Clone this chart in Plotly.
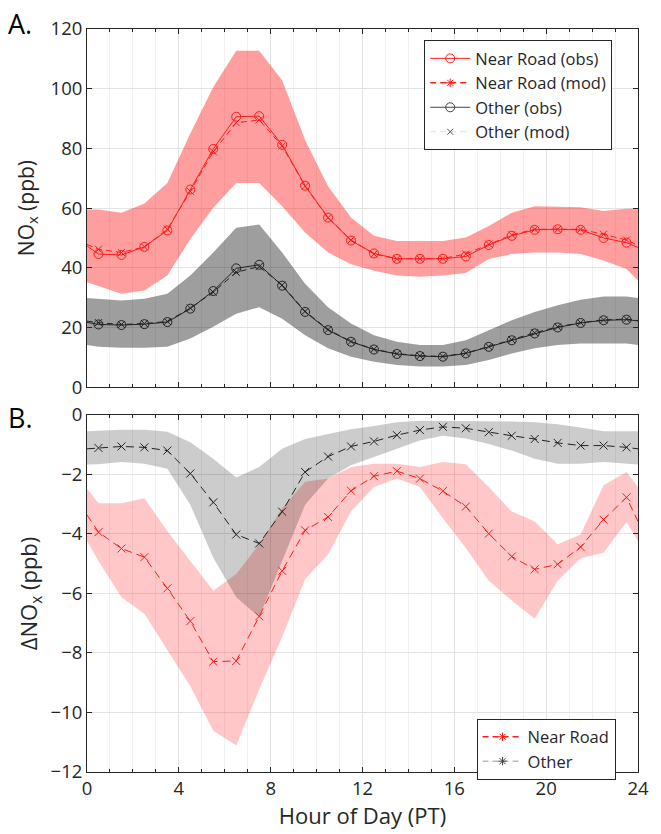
import plotly.graph_objects as go

# ---------------- data ----------------
hours = [0.5 + i for i in range(24)]
hours_full = [0] + hours + [24]

# Panel A: NOx (ppb)
nr_obs = [44.6, 44.3, 47.0, 52.5, 66.2, 79.8, 90.6, 90.8, 81.2, 67.5, 56.8, 49.1,
          44.8, 43.0, 43.0, 43.0, 43.8, 47.6, 50.7, 52.7, 52.9, 52.7, 50.0, 48.4]
nr_obs_end = [47.3, 46.8]
nr_mod = [46.2, 45.1, 47.0, 52.9, 65.6, 78.9, 88.6, 89.5, 80.8, 67.3, 56.8, 49.3,
          44.6, 43.0, 43.0, 43.1, 44.6, 47.9, 51.0, 52.9, 52.9, 52.9, 51.2, 49.3]
nr_mod_end = [47.8, 47.5]
nr_hi = [59.5, 59.5, 58.4, 61.5, 68.4, 85.0, 100.6, 112.7, 112.7, 102.8, 82.8, 67.3, 56.8,
         50.7, 49.0, 49.0, 49.0, 50.1, 54.0, 58.4, 60.6, 60.4, 60.3, 59.0, 59.8, 59.8]
nr_lo = [35.1, 34.0, 31.3, 32.4, 37.4, 49.6, 60.1, 68.4, 68.4, 60.6, 51.8, 45.1, 41.2,
         39.0, 37.4, 37.0, 37.4, 38.2, 42.9, 44.6, 45.1, 45.1, 44.6, 42.4, 39.6, 35.7]

ot_obs = [21.0, 20.8, 21.1, 21.8, 26.3, 32.2, 39.8, 41.0, 34.0, 25.2, 19.1, 15.2,
          12.6, 11.1, 10.4, 10.2, 11.3, 13.5, 15.7, 18.0, 20.0, 21.5, 22.4, 22.6]
ot_obs_end = [21.7, 22.2]
ot_mod = [21.6, 21.0, 21.3, 22.0, 26.5, 31.8, 38.5, 40.4, 34.2, 25.4, 19.3, 15.3,
          12.7, 11.2, 10.5, 10.3, 11.4, 13.6, 15.9, 18.2, 20.2, 21.6, 22.5, 22.8]
ot_mod_end = [22.1, 22.3]
ot_hi = [29.9, 29.6, 29.0, 29.6, 31.3, 37.4, 45.1, 53.4, 54.5, 45.1, 34.6, 26.8, 21.3,
         17.4, 15.2, 14.1, 14.1, 15.7, 19.1, 22.4, 25.2, 27.4, 29.3, 30.4, 30.4, 29.9]
ot_lo = [14.1, 13.5, 13.2, 13.2, 13.5, 16.3, 20.2, 24.6, 26.8, 22.9, 17.4, 13.0, 10.2,
         8.5, 7.4, 6.9, 6.9, 7.4, 9.1, 11.3, 13.0, 14.1, 14.6, 14.6, 14.6, 14.1]

# Panel B: delta NOx (ppb)
d_nr = [-3.36, -3.94, -4.49, -4.78, -5.83, -6.93, -8.29, -8.27, -6.77, -5.24, -3.88, -3.43,
        -2.55, -2.06, -1.89, -2.14, -2.56, -3.08, -3.99, -4.76, -5.19, -5.02, -4.44, -3.52,
        -2.77, -3.58]
d_nr_hi = [-2.47, -2.97, -2.97, -2.80, -3.91, -4.91, -5.91, -5.35, -4.35, -3.14, -2.25, -2.14,
           -1.75, -1.64, -1.64, -1.75, -1.58, -1.66, -2.42, -3.25, -3.58, -4.35, -4.02, -2.36,
           -1.92, -2.42]
d_nr_lo = [-4.24, -4.91, -6.13, -6.68, -7.90, -9.12, -10.61, -11.11, -9.23, -7.46, -5.52, -4.69,
           -3.25, -2.42, -2.14, -2.42, -3.47, -4.47, -5.57, -6.24, -6.85, -5.57, -4.82, -4.63,
           -3.60, -4.24]
d_ot = [-1.14, -1.11, -1.06, -1.09, -1.20, -1.97, -2.94, -4.02, -4.32, -3.25, -1.92, -1.40,
        -1.06, -0.89, -0.68, -0.51, -0.40, -0.45, -0.58, -0.70, -0.81, -0.94, -1.03, -1.03,
        -1.09, -1.14]
d_ot_hi = [-0.55, -0.53, -0.50, -0.50, -0.57, -0.92, -1.47, -2.10, -1.75, -1.14, -0.81, -0.64,
           -0.48, -0.37, -0.25, -0.20, -0.20, -0.20, -0.22, -0.22, -0.25, -0.31, -0.42, -0.55,
           -0.55, -0.55]
d_ot_lo = [-1.67, -1.66, -1.58, -1.64, -1.81, -3.02, -4.80, -6.13, -6.79, -4.91, -3.02, -2.14,
           -1.69, -1.42, -1.14, -0.86, -0.70, -0.79, -0.98, -1.20, -1.47, -1.64, -1.64, -1.58,
           -1.64, -1.67]

x_ticks = [0, 4, 8, 12, 16, 20, 24]
yA_ticks = [0, 20, 40, 60, 80, 100, 120]
yB_ticks = [0, -2, -4, -6, -8, -10, -12]

# ---------------- figure ----------------
FONT = "Open Sans"
RED = "#ff1a1a"
DARK = "#222222"
fig = go.Figure()


def band(xs, hi, lo, color, xa, ya):
    fig.add_trace(go.Scatter(
        x=list(xs) + list(xs)[::-1], y=list(hi) + list(lo)[::-1],
        fill="toself", fillcolor=color, line=dict(width=0), mode="lines",
        hoverinfo="skip", showlegend=False, xaxis=xa, yaxis=ya))


def full(v, ends):
    return [ends[0]] + list(v) + [ends[1]]


def mk(symbol, size, color):
    return dict(symbol=symbol, size=size, color=color, line=dict(color=color, width=1))


# Panel A bands
band(hours_full, nr_hi, nr_lo, "rgba(255,0,0,0.38)", "x", "y")
band(hours_full, ot_hi, ot_lo, "rgba(0,0,0,0.38)", "x", "y")

# Panel A lines
fig.add_trace(go.Scatter(x=hours_full, y=full(ot_mod, ot_mod_end), mode="lines",
                         line=dict(color=DARK, width=1, dash="6px,4px"),
                         showlegend=False, xaxis="x", yaxis="y"))
fig.add_trace(go.Scatter(x=hours, y=ot_mod, mode="markers", marker=mk("x-thin-open", 7, DARK),
                         showlegend=False, xaxis="x", yaxis="y"))
fig.add_trace(go.Scatter(x=hours_full, y=full(ot_obs, ot_obs_end), mode="lines",
                         line=dict(color=DARK, width=1), showlegend=False, xaxis="x", yaxis="y"))
fig.add_trace(go.Scatter(x=hours, y=ot_obs, mode="markers", marker=mk("circle-open", 9, DARK),
                         showlegend=False, xaxis="x", yaxis="y"))
fig.add_trace(go.Scatter(x=hours_full, y=full(nr_mod, nr_mod_end), mode="lines",
                         line=dict(color=RED, width=1, dash="6px,4px"),
                         showlegend=False, xaxis="x", yaxis="y"))
fig.add_trace(go.Scatter(x=hours, y=nr_mod, mode="markers", marker=mk("x-thin-open", 7, RED),
                         showlegend=False, xaxis="x", yaxis="y"))
fig.add_trace(go.Scatter(x=hours_full, y=full(nr_obs, nr_obs_end), mode="lines",
                         line=dict(color=RED, width=1), showlegend=False, xaxis="x", yaxis="y"))
fig.add_trace(go.Scatter(x=hours, y=nr_obs, mode="markers", marker=mk("circle-open", 9, RED),
                         showlegend=False, xaxis="x", yaxis="y"))

# Panel A legend entries
fig.add_trace(go.Scatter(x=[None], y=[None], mode="lines+markers", name="Near Road (obs)",
                         line=dict(color=RED, width=1), marker=mk("circle-open", 9, RED),
                         legend="legend", xaxis="x", yaxis="y"))
fig.add_trace(go.Scatter(x=[None], y=[None], mode="lines+markers", name="Near Road (mod)",
                         line=dict(color=RED, width=1.5, dash="6px,4px"),
                         marker=mk("asterisk-open", 7, RED),
                         legend="legend", xaxis="x", yaxis="y"))
fig.add_trace(go.Scatter(x=[None], y=[None], mode="lines+markers", name="Other (obs)",
                         line=dict(color="#444444", width=1), marker=mk("circle-open", 9, "#444444"),
                         legend="legend", xaxis="x", yaxis="y"))
fig.add_trace(go.Scatter(x=[None], y=[None], mode="lines+markers", name="Other (mod)",
                         line=dict(color="#dddddd", width=1, dash="6px,4px"),
                         marker=mk("x-thin-open", 6, "#555555"),
                         legend="legend", xaxis="x", yaxis="y"))

# Panel B bands (red first, grey over it)
band(hours_full, d_nr_hi, d_nr_lo, "rgba(255,0,0,0.22)", "x2", "y2")
band(hours_full, d_ot_hi, d_ot_lo, "rgba(0,0,0,0.20)", "x2", "y2")

fig.add_trace(go.Scatter(x=hours_full, y=d_nr, mode="lines",
                         line=dict(color=RED, width=1, dash="8px,5px"),
                         showlegend=False, xaxis="x2", yaxis="y2"))
fig.add_trace(go.Scatter(x=hours, y=d_nr[1:-1], mode="markers", marker=mk("x-thin-open", 8, RED),
                         showlegend=False, xaxis="x2", yaxis="y2"))
fig.add_trace(go.Scatter(x=hours_full, y=d_ot, mode="lines",
                         line=dict(color=DARK, width=1, dash="8px,5px"),
                         showlegend=False, xaxis="x2", yaxis="y2"))
fig.add_trace(go.Scatter(x=hours, y=d_ot[1:-1], mode="markers", marker=mk("x-thin-open", 8, DARK),
                         showlegend=False, xaxis="x2", yaxis="y2"))

fig.add_trace(go.Scatter(x=[None], y=[None], mode="lines+markers", name="Near Road",
                         line=dict(color=RED, width=1.5, dash="6px,4px"),
                         marker=mk("asterisk-open", 7, RED),
                         legend="legend2", xaxis="x2", yaxis="y2"))
fig.add_trace(go.Scatter(x=[None], y=[None], mode="lines+markers", name="Other",
                         line=dict(color="#999999", width=1, dash="6px,4px"),
                         marker=mk("asterisk-open", 7, "#444444"),
                         legend="legend2", xaxis="x2", yaxis="y2"))

axis_common = dict(
    showline=True, linecolor="#262626", linewidth=1, mirror="ticks",
    ticks="inside", ticklen=5, tickcolor="#262626",
    showgrid=True, gridcolor="#e3e3e3", gridwidth=1, zeroline=False,
    tickfont=dict(family=FONT, size=18.5, color="#262626"),
)
x_minor = dict(dtick=1, ticks="inside", ticklen=3, tickcolor="#262626",
               showgrid=True, gridcolor="#f1f1f1", gridwidth=1)

fig.update_layout(
    width=661, height=834,
    margin=dict(l=87, r=15, t=29, b=58),
    paper_bgcolor="white", plot_bgcolor="white",
    font=dict(family=FONT, size=18, color="#262626"),
    xaxis=dict(**axis_common, domain=[0, 1], range=[0, 24], tickvals=x_ticks,
               showticklabels=False, anchor="y", minor=x_minor),
    yaxis=dict(**axis_common, domain=[0.518, 1], range=[0, 120], tickvals=yA_ticks,
               anchor="x", title=dict(text="NO<sub>x</sub> (ppb)",
                                      font=dict(family=FONT, size=21), standoff=10)),
    xaxis2=dict(**axis_common, domain=[0, 1], range=[0, 24], tickvals=x_ticks,
                anchor="y2", minor=x_minor,
                title=dict(text="Hour of Day (PT)", font=dict(family=FONT, size=22), standoff=6)),
    yaxis2=dict(**axis_common, domain=[0, 0.4806], range=[-12, 0], tickvals=yB_ticks,
                anchor="x2", title=dict(text="ΔNO<sub>x</sub> (ppb)",
                                        font=dict(family=FONT, size=22), standoff=6)),
    legend=dict(x=0.612, y=0.985, xanchor="left", yanchor="top", xref="paper", yref="paper",
                bgcolor="white", bordercolor="#262626", borderwidth=1,
                font=dict(family=FONT, size=16.5, color="#262626"),
                tracegroupgap=0, itemwidth=40),
    legend2=dict(x=0.707, y=0.072, xanchor="left", yanchor="top",
                 bgcolor="white", bordercolor="#262626", borderwidth=1,
                 font=dict(family=FONT, size=16.5, color="#262626"),
                 tracegroupgap=0, itemwidth=40),
    annotations=[
        dict(text="A.", x=-0.147, y=1.035, xref="paper", yref="paper", xanchor="left",
             yanchor="top", showarrow=False, font=dict(family=FONT, size=27, color="black")),
        dict(text="B.", x=-0.147, y=0.505, xref="paper", yref="paper", xanchor="left",
             yanchor="top", showarrow=False, font=dict(family=FONT, size=27, color="black")),
    ],
)

fig.write_html("out.html")
